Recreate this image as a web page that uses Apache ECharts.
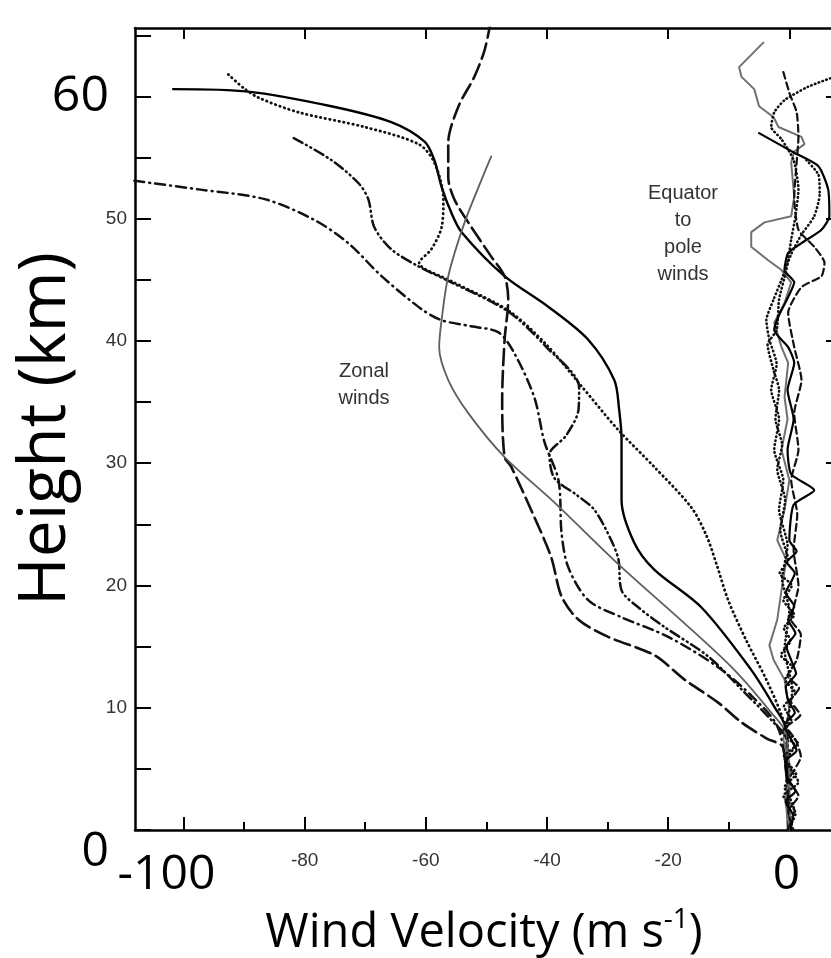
<!DOCTYPE html>
<html lang="en">
<head>
    <meta charset="UTF-8">
    <title>Wind velocity profiles</title>
    <style>
        body {
            margin: 0;
            overflow: hidden;
            background: #fff;
        }
    </style>
</head>
<body>
    <div id="chart" style="width:831px;height:958px;"></div>
    <script src="https://cdn.jsdelivr.net/npm/echarts@6/dist/echarts.min.js"></script>
    <script>
        // ticks and labels
        var xMajor = [-100, -80, -60, -40, -20, 0];
        var xMinor = [-90, -70, -50, -30, -10];
        var yTicks = [0, 5, 10, 15, 20, 25, 30, 35, 40, 45, 50, 55, 60, 65];
        var yLabels = [0, 10, 20, 30, 40, 50, 60];
        var yRightTicks = [10, 20, 30, 40, 50, 60];

        // zonal winds, [velocity, height]
        var zonalSolid = [
            [-101.7, 60.6], [-89.3, 60.4], [-75.6, 59.2], [-65.7, 57.9], [-60.2, 56.3], [-58.6, 54.8],
            [-57.4, 52.6], [-55.8, 50.5], [-54.1, 48.9], [-47.0, 45.3], [-39.8, 42.8], [-33.2, 40.1],
            [-28.9, 36.8], [-28.1, 34.4], [-27.7, 31.9], [-27.7, 27.0], [-25.6, 23.5], [-22.3, 21.3],
            [-14.5, 18.2], [-6.3, 13.1], [-2.5, 10.1], [-0.5, 8.2], [-0.3, 4.9], [-0.2, 0]
        ];
        var zonalDotted = [
            [-92.6, 61.8], [-90.1, 60.7], [-87.6, 59.9], [-81.0, 58.7], [-70.1, 57.5], [-61.2, 56.1],
            [-58.6, 54.6], [-57.1, 51.6], [-57.4, 49.3], [-59.1, 47.5], [-61.1, 46.4], [-55.8, 44.9],
            [-46.4, 42.5], [-40.1, 39.7], [-34.3, 36.3], [-28.2, 32.7], [-22.3, 29.7], [-16.2, 26.4],
            [-13.7, 24.1], [-12.0, 21.7], [-10.1, 18.8], [-7.1, 15.5], [-3.8, 12.3], [-1.3, 9.4],
            [-0.3, 7.4], [-0.2, 0]
        ];
        var zonalDashDotDot = [
            [-81.8, 56.6], [-75.6, 54.8], [-71.1, 52.9], [-69.5, 51.6], [-68.5, 49.3], [-65.7, 47.5],
            [-61.2, 46.1], [-55.8, 44.8], [-46.4, 42.4], [-40.1, 39.5], [-34.7, 36.2], [-34.8, 34.4],
            [-36.8, 32.3], [-39.6, 30.7], [-38.8, 28.8], [-35.1, 27.4], [-32.2, 26.2], [-29.4, 23.7],
            [-28.2, 22.1], [-27.7, 19.6], [-24.9, 18.2], [-20.6, 16.6], [-13.4, 14.2], [-7.9, 11.5],
            [-3.0, 9.0], [-0.5, 7.4], [-0.2, 0]
        ];
        var zonalDashDot = [
            [-108.1, 53.1], [-97.5, 52.4], [-86.6, 51.6], [-78.4, 49.9], [-72.8, 48.0], [-67.3, 45.3],
            [-60.7, 42.6], [-57.4, 41.7], [-52.5, 41.2], [-48.0, 40.7], [-45.4, 39.0], [-42.1, 35.4],
            [-40.4, 31.7], [-38.1, 28.6], [-37.6, 24.3], [-36.5, 21.5], [-33.2, 18.8], [-27.7, 17.4],
            [-20.0, 15.8], [-11.7, 13.3], [-6.3, 11.0], [-2.1, 8.6], [-0.7, 5.7], [-0.2, 0]
        ];
        var zonalLongDash = [
            [-49.3, 66.1], [-50.3, 63.8], [-52.0, 61.6], [-54.6, 59.2], [-56.3, 56.2], [-56.3, 53.4],
            [-55.3, 51.6], [-53.0, 49.7], [-49.2, 46.9], [-47.0, 45.3], [-46.4, 43.4], [-47.0, 40.1],
            [-47.4, 35.2], [-47.0, 30.5], [-45.9, 29.7], [-42.1, 25.6], [-39.3, 22.3], [-37.6, 19.1],
            [-34.8, 17.2], [-29.9, 15.8], [-22.3, 14.3], [-17.3, 12.3], [-11.7, 10.4], [-7.9, 8.8],
            [-3.8, 7.5], [-1.0, 6.7], [-0.2, 0]
        ];
        var zonalGray = [
            [-49.2, 55.1], [-50.8, 53.2], [-53.6, 49.7], [-56.3, 45.3], [-57.4, 41.7], [-57.8, 39.5],
            [-56.3, 36.8], [-53.0, 34.1], [-47.0, 30.5], [-38.8, 26.8], [-27.7, 21.5], [-17.3, 16.9],
            [-9.1, 13.1], [-3.0, 9.6], [-0.5, 7.8], [0.1, 0]
        ];

        // equator to pole winds
        var merGray = [
            [-4.3, 64.4], [-8.3, 62.4], [-7.9, 61.6], [-5.8, 60.6], [-5.0, 59.2], [-2.6, 58.3], [-1.8, 57.5],
            [2.0, 56.7], [2.5, 56.1], [0.8, 55.5], [0.3, 54.6], [0.8, 51.8], [0.3, 50.2], [-4.1, 49.7],
            [-6.3, 48.9], [-6.3, 47.7], [-3.5, 46.6], [-1.3, 45.8], [0.3, 44.8], [-0.8, 43.1], [-2.5, 41.5],
            [-1.3, 39.5], [-0.2, 38.2], [-0.8, 35.4], [-0.3, 33.6], [-1.3, 31.1], [0, 28.6], [-0.8, 26.2],
            [-2.0, 23.7], [-0.5, 22.1], [-1.3, 19.6], [-2.0, 17.2], [-3.3, 15.1], [-2.6, 13.9], [-0.8, 12.3],
            [0, 9.8], [-1.0, 7.4], [0.3, 4.9], [-0.7, 2.5], [0, 0]
        ];
        var merDashed = [
            [-1.0, 62.0], [0, 60.3], [1.2, 58.7], [1.5, 56.7], [1.2, 54.6], [0.8, 51.8], [1.5, 49.1],
            [4.1, 47.7], [5.8, 46.4], [5.3, 45.3], [2.0, 44.4], [-0.2, 42.3], [0.8, 39.5], [2.0, 36.8],
            [0.8, 34.1], [1.5, 31.1], [0.3, 28.6], [1.3, 25.8], [0.7, 22.9], [1.5, 20.0], [0.3, 17.2],
            [1.9, 16.0], [1.2, 13.9], [-0.3, 12.6], [1.6, 11.6], [0.2, 10.6], [1.8, 9.4], [-0.4, 8.4],
            [1.0, 7.4], [1.9, 6.0], [0, 4.1], [1.5, 2.8], [-0.2, 1.5], [0.7, 0]
        ];
        var merDotted = [
            [7.4, 61.6], [3.1, 60.8], [-0.8, 59.7], [-2.5, 58.7], [-3.0, 57.5], [-1.3, 56.5], [0.7, 54.8],
            [1.5, 52.4], [1.0, 50.2], [0.3, 48.3], [-0.5, 45.8], [-1.7, 43.4], [-2.1, 40.9], [-3.6, 39.7],
            [-2.6, 37.6], [-1.7, 36.0], [-2.3, 33.6], [-1.2, 31.5], [-2.0, 29.5], [-0.7, 27.0], [-1.5, 24.5],
            [-0.2, 22.1], [-1.6, 21.0], [0.4, 20.0], [-1.0, 18.8], [0.8, 17.6], [-0.9, 16.5], [0.2, 15.5],
            [-1.4, 14.3], [0.5, 13.3], [-0.7, 12.3], [1.0, 11.2], [-0.9, 10.1], [0.3, 9.0], [-1.2, 8.0],
            [0.9, 6.9], [-0.5, 5.7], [1.1, 4.6], [-0.8, 3.5], [0.2, 2.5], [1.0, 1.3], [-0.3, 0]
        ];
        var merSolid = [
            [-5.0, 57.0], [0.8, 55.4], [4.8, 54.3], [6.4, 52.4], [6.6, 50.2], [5.3, 49.1], [2.0, 48.0],
            [-0.2, 47.2], [-0.8, 45.8], [0.8, 44.8], [-0.2, 43.6], [-1.8, 42.0], [-2.5, 40.9], [-0.2, 39.5],
            [0.8, 38.2], [-0.3, 36.0], [0.7, 33.6], [-0.3, 31.1], [0.3, 29.1], [4.1, 27.8], [0.7, 26.6],
            [0, 23.7], [1.2, 22.8], [-0.4, 21.9], [0.9, 21.0], [0.5, 20.5], [-0.6, 19.4], [0.8, 18.3],
            [-0.2, 17.2], [1.0, 16.1], [-0.5, 15.0], [0.3, 13.9], [1.1, 12.8], [-0.6, 11.7], [-0.2, 10.6],
            [0.9, 9.6], [-0.8, 8.6], [0.3, 7.4], [1.2, 6.5], [-0.7, 5.6], [-0.2, 4.1], [1.0, 3.2],
            [-0.6, 2.3], [0.6, 1.2], [0.2, 0]
        ];
        var merDotted2 = [
            [2.8, 54.8], [4.8, 53.6], [5.0, 52.0], [4.1, 50.2], [2.0, 48.7], [0.3, 47.1], [-1.3, 45.0],
            [-2.6, 43.4], [-3.8, 41.7], [-3.3, 40.1], [-2.1, 38.1], [-3.0, 36.0], [-1.7, 33.6], [-2.5, 31.1],
            [-1.0, 28.6], [-1.7, 26.2], [-0.3, 23.3], [-1.2, 20.5], [0, 18.0], [-0.8, 14.7], [0.5, 11.5],
            [-0.5, 8.2], [1.4, 7.1], [-0.9, 6.0], [0.3, 4.9], [1.5, 3.9], [-1.0, 2.8], [0.8, 1.6], [-0.3, 0]
        ];

        var bigFont = '"Open Sans", sans-serif';
        var smallFont = '"Liberation Sans", Arial, sans-serif';

        function profile(name, data, color, width, type, smooth) {
            return {
                name: name,
                type: 'line',
                data: data,
                showSymbol: false,
                smooth: smooth,
                clip: true,
                silent: true,
                lineStyle: {
                    color: color,
                    width: width,
                    type: type,
                    cap: 'round'
                }
            };
        }

        var frameLine = { show: true, onZero: false, lineStyle: { color: '#000', width: 2.5 } };

        var myChart = echarts.init(document.getElementById('chart'));

        var option = {
            backgroundColor: '#fff',
            animation: false,
            grid: {
                left: 135,
                top: 28,
                width: 698,
                height: 802,
                outerBoundsMode: 'none'
            },
            xAxis: [{
                type: 'value',
                position: 'bottom',
                min: -108,
                max: 7.2,
                name: '{a|Wind Velocity (m s}{b|-1}{a|)}',
                nameLocation: 'middle',
                nameGap: 76,
                nameTextStyle: {
                    rich: {
                        a: { fontFamily: bigFont, fontSize: 47, color: '#000', lineHeight: 56 },
                        b: { fontFamily: bigFont, fontSize: 28, color: '#000', verticalAlign: 'top', lineHeight: 30 }
                    }
                },
                axisLine: frameLine,
                axisTick: { show: true, inside: true, length: 13, customValues: xMajor, lineStyle: { color: '#000', width: 2 } },
                splitLine: { show: false },
                axisLabel: {
                    customValues: xMajor,
                    margin: 20,
                    formatter: function (v) {
                        if (v === -100) return '{big1|' + v + '}';
                        if (v === 0) return '{big0|0}';
                        return '{s|' + v + '}';
                    },
                    rich: {
                        s: { fontFamily: smallFont, fontSize: 19, color: '#333', lineHeight: 22 },
                        big1: { fontFamily: bigFont, fontSize: 48, color: '#000', lineHeight: 50, padding: [0, 34, 0, 0] },
                        big0: { fontFamily: bigFont, fontSize: 48, color: '#000', lineHeight: 50, padding: [0, 6, 0, 0] }
                    }
                }
            }, {
                type: 'value',
                position: 'bottom',
                min: -108,
                max: 7.2,
                axisLine: { show: false, onZero: false },
                axisTick: { show: true, inside: true, length: 8, customValues: xMinor, lineStyle: { color: '#000', width: 2 } },
                axisLabel: { show: false },
                splitLine: { show: false }
            }, {
                type: 'value',
                position: 'top',
                min: -108,
                max: 7.2,
                axisLine: frameLine,
                axisTick: { show: true, inside: true, length: 11, customValues: xMajor, lineStyle: { color: '#000', width: 2 } },
                axisLabel: { show: false },
                splitLine: { show: false }
            }],
            yAxis: [{
                type: 'value',
                position: 'left',
                min: 0,
                max: 65.6,
                name: 'Height (km)',
                nameLocation: 'middle',
                nameRotate: 90,
                nameGap: 56,
                nameMoveOverlap: false,
                nameTextStyle: { fontFamily: bigFont, fontSize: 66, color: '#000' },
                axisLine: frameLine,
                axisTick: { show: true, inside: true, length: 16, customValues: yTicks, lineStyle: { color: '#000', width: 2 } },
                splitLine: { show: false },
                axisLabel: {
                    customValues: yLabels,
                    margin: 8,
                    formatter: function (v) {
                        if (v === 60) return '{big|60}';
                        if (v === 0) return '{bz|0}';
                        return '{s|' + v + '}';
                    },
                    rich: {
                        s: { fontFamily: smallFont, fontSize: 19, color: '#333' },
                        big: { fontFamily: bigFont, fontSize: 50, color: '#000', padding: [0, 18, 0, 0] },
                        bz: { fontFamily: bigFont, fontSize: 48, color: '#000', padding: [44, 18, 0, 0] }
                    }
                }
            }, {
                type: 'value',
                position: 'right',
                min: 0,
                max: 65.6,
                axisLine: frameLine,
                axisTick: { show: true, inside: true, length: 7, customValues: yRightTicks, lineStyle: { color: '#000', width: 2 } },
                axisLabel: { show: false },
                splitLine: { show: false }
            }],
            graphic: [{
                type: 'text',
                style: {
                    text: 'Zonal\nwinds',
                    x: 364,
                    y: 358,
                    textAlign: 'center',
                    font: '20px "Liberation Sans", Arial, sans-serif',
                    lineHeight: 27,
                    fill: '#333'
                }
            }, {
                type: 'text',
                style: {
                    text: 'Equator\nto\npole\nwinds',
                    x: 683,
                    y: 180,
                    textAlign: 'center',
                    font: '20px "Liberation Sans", Arial, sans-serif',
                    lineHeight: 27,
                    fill: '#333'
                }
            }],
            series: [
                profile('zonal solid', zonalSolid, '#000', 2.4, 'solid', 0.3),
                profile('zonal dotted', zonalDotted, '#111', 2.8, [0.5, 4.2], 0.3),
                profile('zonal dash-dot-dot', zonalDashDotDot, '#111', 2.5, [10, 4, 1, 4, 1, 4], 0.3),
                profile('zonal dash-dot', zonalDashDot, '#111', 2.5, [10, 5, 1, 5], 0.3),
                profile('zonal long dash', zonalLongDash, '#111', 2.6, [16, 6], 0.3),
                profile('zonal gray', zonalGray, '#5e5e5e', 1.8, 'solid', 0.3),
                profile('meridional gray', merGray, '#707070', 2, 'solid', false),
                profile('meridional dashed', merDashed, '#111', 2.2, [7, 4], 0.2),
                profile('meridional dotted', merDotted, '#111', 2.6, [0.5, 3.5], 0.2),
                profile('meridional solid', merSolid, '#000', 2.2, 'solid', 0.2),
                profile('meridional dotted 2', merDotted2, '#111', 2.6, [0.5, 3.5], 0.2)
            ]
        };

        myChart.setOption(option);
    </script>
</body>
</html>
